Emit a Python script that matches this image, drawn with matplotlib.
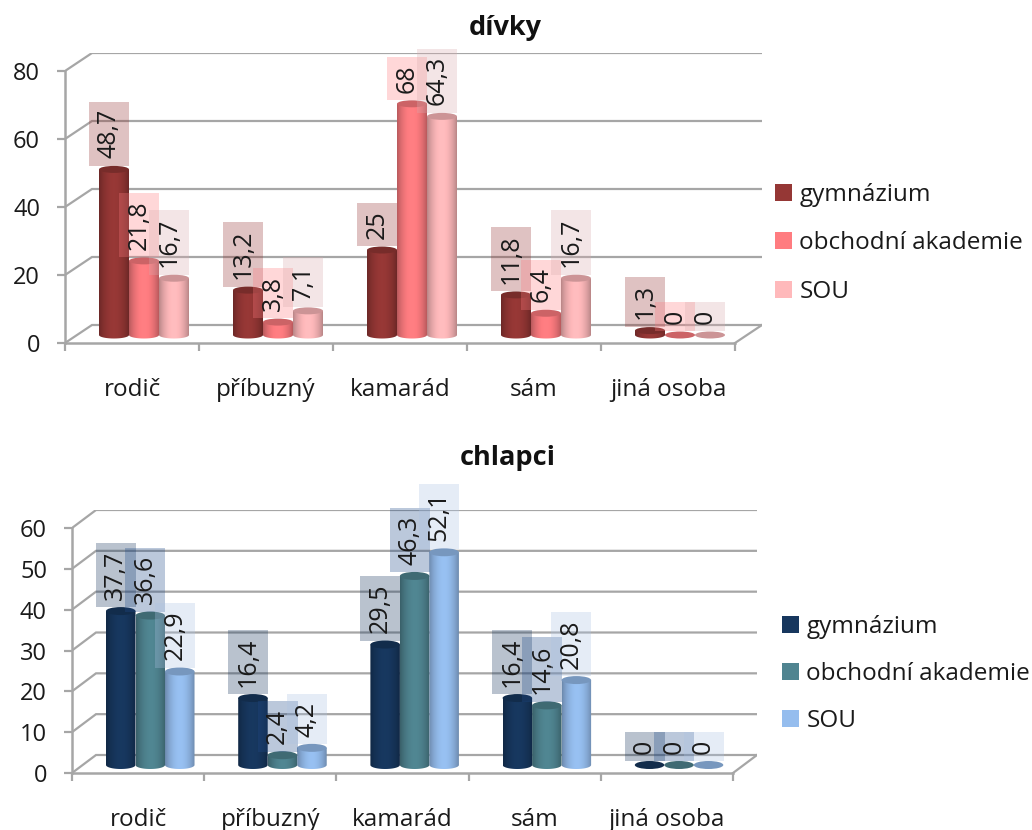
import numpy as np
import matplotlib
matplotlib.use('Agg')
import matplotlib.pyplot as plt
from matplotlib.patches import Ellipse, Patch, PathPatch
from matplotlib.path import Path
from matplotlib.colors import to_rgb

plt.rcParams['font.family'] = ['Open Sans', 'DejaVu Sans']

# data
categories = ['rodič', 'příbuzný', 'kamarád', 'sám', 'jiná osoba']
schools = ['gymnázium', 'obchodní akademie', 'SOU']

girls_gym = [48.7, 13.2, 25, 11.8, 1.3]
girls_oa = [21.8, 3.8, 68, 6.4, 0]
girls_sou = [16.7, 7.1, 64.3, 16.7, 0]

boys_gym = [37.7, 16.4, 29.5, 16.4, 0]
boys_oa = [36.6, 2.4, 46.3, 14.6, 0]
boys_sou = [22.9, 4.2, 52.1, 20.8, 0]

girls_colors = ['#953735', '#ff7c80', '#ffb9bb']
boys_colors = ['#17375e', '#4f8490', '#95bdee']
girls_box = ['#953735', '#ff7c80', '#daacaf']
boys_box = ['#17375e', '#204b8a', '#acc3e4']

girls_ticks = [0, 20, 40, 60, 80]
boys_ticks = [0, 10, 20, 30, 40, 50, 60]

W, H = 1032, 830
GRAY = '#a6a6a6'
TEXT = '#1a1a1a'


def cylinder(ax, left, width, base, value, color, ell_h):
    right = left + width
    mid = left + width / 2
    top = base + value
    rgb = np.array(to_rgb(color))
    if value > 0:
        # telo valce: svisly obdelnik se spodnim obloukem
        t = np.linspace(np.pi, 2 * np.pi, 30)
        arc = np.column_stack([mid + width / 2 * np.cos(t), base + ell_h / 2 * np.sin(t)])
        verts = np.vstack([[[left, top]], arc, [[right, top]], [[left, top]]])
        clip = PathPatch(Path(verts), transform=ax.transData, fc='none', ec='none')
        ax.add_patch(clip)
        g = np.linspace(0, 1, 64)
        shade = 0.72 + 0.30 * np.sin(np.pi * g) ** 0.8
        img = np.clip(shade[:, None] * rgb, 0, 1)[None, :, :]
        im = ax.imshow(img, extent=[left, right, base - ell_h, top], aspect='auto',
                       interpolation='bilinear', zorder=3)
        im.set_clip_path(clip)
    ax.add_patch(Ellipse((mid, top), width, ell_h, fc=rgb * 0.8, ec='none', zorder=4))


def panel(x0, x1, y0, y1, top_val, ticks, series, colors, box_colors, base_px, bar_off, bar_w,
          dx_px, dy_px, ell_px, title, title_xy, legend_xy, legend_gap):
    # x0..x1 = predni osa v pixelech, y0 = hodnota 0, y1 = max
    ax = fig.add_axes([x0 / W, 1 - y0 / H, (x1 - x0 + dx_px) / W, (y0 - y1 + dy_px) / H])
    cat_px = (x1 - x0) / 5
    val_px = (y0 - y1) / top_val
    dx = dx_px / cat_px
    dy = dy_px / val_px
    ax.patch.set_visible(False)

    # steny a mrizka
    for v in ticks:
        ax.plot([0, dx, 5 + dx], [v, v + dy, v + dy], color=GRAY, lw=1.6, zorder=1,
                solid_joinstyle='miter')
    ax.plot([5, 5 + dx], [0, dy], color=GRAY, lw=1.6, zorder=1)

    # sloupce
    off = bar_off / cat_px
    w = bar_w / cat_px
    base = base_px / val_px
    ell_h = ell_px / val_px
    for s, vals in enumerate(series):
        for i, v in enumerate(vals):
            cylinder(ax, i + off + s * w, w, base, v, colors[s], ell_h)

    # popisky hodnot
    for s, vals in enumerate(series):
        for i, v in enumerate(vals):
            lab = str(v).replace('.', ',')
            ax.annotate(lab, (i + off + s * w + w / 2, base + v),
                        xytext=(-3.5, 8), textcoords='offset points',
                        rotation=90, ha='center', va='bottom', fontsize=18,
                        color=TEXT, zorder=6 + s,
                        bbox=dict(boxstyle='square,pad=0.3', fc=box_colors[s], ec='none', alpha=0.3))

    ax.set_xlim(0, 5 + dx)
    ax.set_ylim(0, top_val + dy)
    for side in ['top', 'right']:
        ax.spines[side].set_visible(False)
    ax.spines['left'].set_bounds(0, top_val)
    ax.spines['bottom'].set_bounds(0, 5)
    for side in ['left', 'bottom']:
        ax.spines[side].set_color(GRAY)
        ax.spines[side].set_linewidth(1.8)
    ax.set_yticks(ticks)
    ax.set_xticks(range(6))
    ax.set_xticklabels([])
    ax.set_xticks([i + 0.5 for i in range(5)], minor=True)
    ax.set_xticklabels(categories, minor=True, fontsize=17.5, color=TEXT)
    ax.tick_params(axis='x', which='minor', length=0, pad=25)
    ax.tick_params(axis='x', which='major', length=6, width=1.6, color=GRAY)
    ax.tick_params(axis='y', length=6, width=1.6, color=GRAY, labelsize=17, labelcolor=TEXT, pad=12)

    fig.text(title_xy[0] / W, 1 - title_xy[1] / H, title, fontsize=19.5, fontweight='bold',
             ha='center', va='center', color='#111111')
    handles = [Patch(fc=c, ec='none') for c in colors]
    fig.legend(handles, schools, loc='upper left',
               bbox_to_anchor=(legend_xy[0] / W, 1 - legend_xy[1] / H),
               frameon=False, fontsize=17.5, labelcolor=TEXT, borderpad=0, borderaxespad=0,
               handlelength=0.7, handleheight=0.7, handletextpad=0.3, labelspacing=legend_gap)
    return ax


fig = plt.figure(figsize=(W / 100, H / 100), dpi=100, facecolor='white')

panel(65, 735, 343, 71, 80, girls_ticks, [girls_gym, girls_oa, girls_sou], girls_colors, girls_box,
      8, 34, 30, 27, 18, 7, 'dívky', (505, 28), (775, 183), 1.0)
panel(72, 733, 773, 528, 60, boys_ticks, [boys_gym, boys_oa, boys_sou], boys_colors, boys_box,
      8, 34, 29.5, 24, 18, 8, 'chlapci', (508, 458), (782, 615), 0.95)

fig.savefig('out.png', dpi=100)
